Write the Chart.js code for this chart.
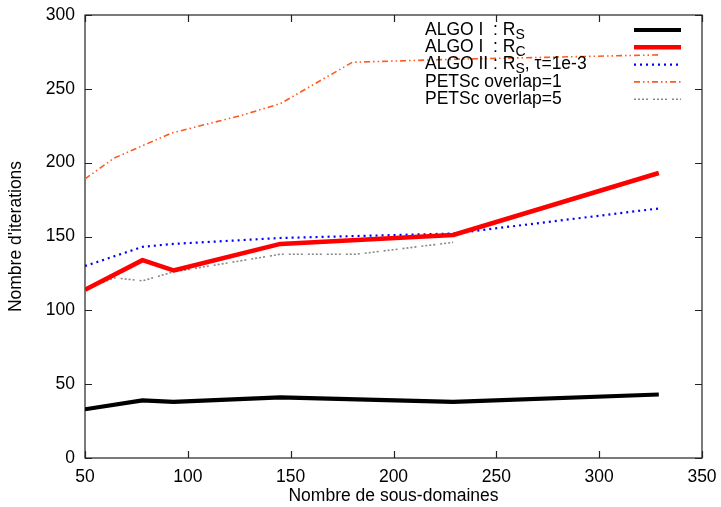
<!DOCTYPE html>
<html>
<head>
<meta charset="utf-8">
<script src="https://cdn.jsdelivr.net/npm/chart.js@4/dist/chart.umd.min.js"></script>
<style>
    html, body { margin: 0; padding: 0; background: #fff; }
    #wrap { width: 721px; height: 507px; }
</style>
</head>
<body>
<div id="wrap"><canvas id="iterChart" width="721" height="507"></canvas></div>
<script>
// nombre de sous-domaines pour chaque courbe
const algoX = [50, 78, 93, 145, 229, 329];
const algo1RsY = [33, 39, 38, 41, 38, 43];
const algo1RcY = [114, 134, 127, 145, 151, 193];
const algo2RsY = [130, 143, 145, 149, 152, 169];
const petsc1X = [50, 64, 92, 126, 145, 180, 229, 329];
const petsc1Y = [189, 203, 220, 232, 240, 268, 270, 273];
const petsc5X = [50, 64, 78, 93, 145, 182, 229];
const petsc5Y = [114, 122, 120, 126, 138, 138, 146];

const xTicks = [50, 100, 150, 200, 250, 300, 350];
const yTicks = [0, 50, 100, 150, 200, 250, 300];

// legend labels, "_X" = subscript
const legendLabels = ['ALGO I  : R_S', 'ALGO I  : R_C', 'ALGO II : R_S, τ=1e-3', 'PETSc overlap=1', 'PETSc overlap=5'];

const FONT = "'Liberation Sans', Arial, sans-serif";

const toPoints = (xs, ys) => xs.map((x, i) => ({ x: x, y: ys[i] }));

// frame + inward ticks on all 4 sides, like gnuplot
const framePlugin = {
    id: 'frame',
    beforeDatasetsDraw(chart) {
        const { ctx, chartArea: a, scales } = chart;
        ctx.save();
        ctx.strokeStyle = '#222';
        ctx.lineWidth = 1.2;
        ctx.strokeRect(a.left, a.top, a.right - a.left, a.bottom - a.top);
        const tl = 7;
        ctx.beginPath();
        xTicks.forEach(v => {
            const px = Math.round(scales.x.getPixelForValue(v)) + 0.5;
            ctx.moveTo(px, a.bottom); ctx.lineTo(px, a.bottom - tl);
            ctx.moveTo(px, a.top); ctx.lineTo(px, a.top + tl);
        });
        yTicks.forEach(v => {
            const py = Math.round(scales.y.getPixelForValue(v)) + 0.5;
            ctx.moveTo(a.left, py); ctx.lineTo(a.left + tl, py);
            ctx.moveTo(a.right, py); ctx.lineTo(a.right - tl, py);
        });
        ctx.stroke();
        ctx.restore();
    }
};

// legend drawn by hand to get the subscripts
const legendPlugin = {
    id: 'subLegend',
    afterDraw(chart) {
        const ctx = chart.ctx;
        ctx.save();
        chart.data.datasets.forEach((ds, i) => {
            const yLine = 30 + i * 17.3;
            const base = yLine + 4.8;
            let x = 425;
            ctx.fillStyle = '#000';
            ctx.textBaseline = 'alphabetic';
            ctx.textAlign = 'left';
            const parts = legendLabels[i].split(/_(.)/);
            parts.forEach((p, k) => {
                if (k % 2 === 1) {
                    ctx.font = '14px ' + FONT;
                    ctx.fillText(p, x, base + 4);
                } else {
                    ctx.font = '17.5px ' + FONT;
                    ctx.fillText(p, x, base);
                }
                x += ctx.measureText(p).width;
            });
            ctx.strokeStyle = ds.borderColor;
            ctx.lineWidth = ds.borderWidth;
            ctx.setLineDash(ds.borderDash || []);
            ctx.beginPath();
            ctx.moveTo(634, yLine);
            ctx.lineTo(681, yLine);
            ctx.stroke();
            ctx.setLineDash([]);
        });
        ctx.restore();
    }
};

const ctxIter = document.getElementById('iterChart').getContext('2d');
const iterChart = new Chart(ctxIter, {
    type: 'line',
    data: {
        datasets: [{
            label: legendLabels[0],
            data: toPoints(algoX, algo1RsY),
            borderColor: '#000000',
            borderWidth: 4.2
        }, {
            label: legendLabels[1],
            data: toPoints(algoX, algo1RcY),
            borderColor: '#ff0000',
            borderWidth: 4.5
        }, {
            label: legendLabels[2],
            data: toPoints(algoX, algo2RsY),
            borderColor: '#0000ff',
            borderWidth: 2.2,
            borderDash: [2, 4]
        }, {
            label: legendLabels[3],
            data: toPoints(petsc1X, petsc1Y),
            borderColor: '#ff5a1e',
            borderWidth: 1.6,
            borderDash: [6, 3, 1.5, 3, 1.5, 3]
        }, {
            label: legendLabels[4],
            data: toPoints(petsc5X, petsc5Y),
            borderColor: '#888888',
            borderWidth: 1.6,
            borderDash: [2, 2, 2, 2, 2, 2, 2, 5]
        }]
    },
    options: {
        responsive: false,
        animation: false,
        devicePixelRatio: 1,
        elements: {
            point: { radius: 0, hoverRadius: 0 },
            line: { tension: 0, borderJoinStyle: 'round', borderCapStyle: 'butt', fill: false }
        },
        layout: { padding: { top: 15, right: 19, left: 0, bottom: 0 } },
        plugins: {
            legend: { display: false },
            tooltip: { enabled: false }
        },
        scales: {
            x: {
                type: 'linear',
                min: 50,
                max: 350,
                grid: { display: false, drawTicks: false },
                border: { display: false },
                afterFit: (scale) => {
                    scale.height = 49;
                    scale.paddingLeft = 0;
                    scale.paddingRight = 0;
                },
                afterBuildTicks: (scale) => { scale.ticks = xTicks.map(v => ({ value: v })); },
                ticks: {
                    color: '#000',
                    padding: 9,
                    maxRotation: 0,
                    font: { family: FONT, size: 17.5 }
                },
                title: {
                    display: true,
                    text: 'Nombre de sous-domaines',
                    color: '#000',
                    padding: { top: 0, bottom: 0 },
                    font: { family: FONT, size: 17.5 }
                }
            },
            y: {
                min: 0,
                max: 300,
                grid: { display: false, drawTicks: false },
                border: { display: false },
                afterFit: (scale) => {
                    scale.width = 85;
                    scale.paddingTop = 0;
                    scale.paddingBottom = 0;
                },
                afterBuildTicks: (scale) => { scale.ticks = yTicks.map(v => ({ value: v })); },
                ticks: {
                    color: '#000',
                    padding: 10,
                    font: { family: FONT, size: 17.5 }
                },
                title: {
                    display: true,
                    text: "Nombre d'iterations",
                    color: '#000',
                    padding: { top: 6, bottom: 0 },
                    font: { family: FONT, size: 17.5 }
                }
            }
        }
    },
    plugins: [framePlugin, legendPlugin]
});
</script>
</body>
</html>
